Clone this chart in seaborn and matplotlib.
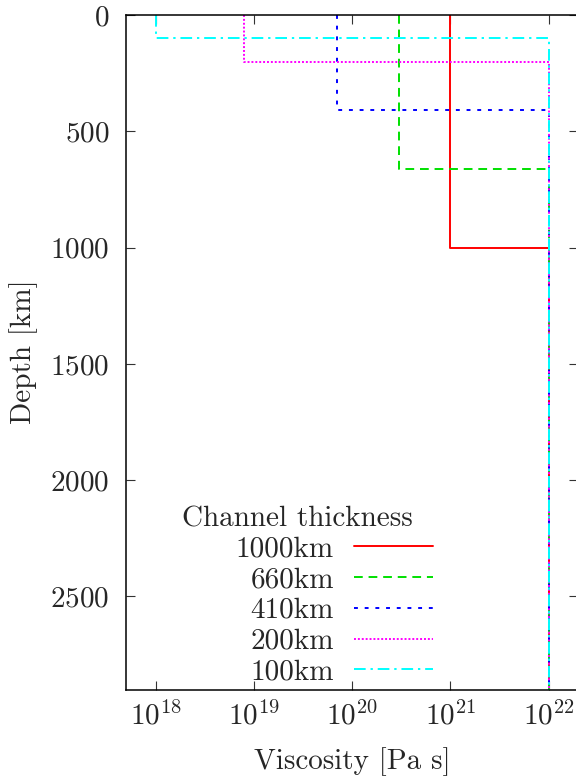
import matplotlib
matplotlib.use("Agg")
import matplotlib.pyplot as plt
import numpy as np
import pandas as pd
import seaborn as sns
from matplotlib.lines import Line2D
from matplotlib.ticker import NullLocator, FixedLocator

# Low-viscosity channel models: channel thickness and viscosity inside the channel
model_labels = ["1000km", "660km", "410km", "200km", "100km"]
channel_thickness_km = [1000, 660, 410, 200, 100]
channel_viscosity = [1e21, 3e20, 7e19, 8e18, 1e18]
mantle_viscosity = 1e22
cmb_depth_km = 2900

line_colors = ["#ff0000", "#00e000", "#0000ff", "#ff00ff", "#00ffff"]
line_dashes = ["", (4.5, 3), (2, 3.5), (1, 1), (6, 2.5, 1.2, 2.5)]

x_ticks = [1e18, 1e19, 1e20, 1e21, 1e22]
y_ticks = [0, 500, 1000, 1500, 2000, 2500]

# Step profiles: channel viscosity down to the channel base, mantle value below
rows = []
for lab, d, v in zip(model_labels, channel_thickness_km, channel_viscosity):
    for visc, depth in [(v, 0), (v, d), (mantle_viscosity, d), (mantle_viscosity, cmb_depth_km)]:
        rows.append({"model": lab, "viscosity": visc, "depth": depth})
df = pd.DataFrame(rows)

FS = 21

sns.set_style("ticks")
plt.rcParams.update({
    "font.family": "serif",
    "font.serif": ["cmr10", "DejaVu Serif"],
    "mathtext.fontset": "cm",
    "axes.formatter.use_mathtext": True,
    "axes.unicode_minus": False,
    "font.size": FS,
})

fig = plt.figure(figsize=(5.76, 7.78), dpi=100)
ax = fig.add_axes([126 / 576, 88.5 / 778, (578.3 - 126) / 576, (689.5 - 15) / 778])

sns.lineplot(
    data=df, x="viscosity", y="depth", hue="model", style="model",
    hue_order=model_labels, style_order=model_labels,
    palette=dict(zip(model_labels, line_colors)),
    dashes=dict(zip(model_labels, line_dashes)),
    sort=False, estimator=None, linewidth=1.4, ax=ax, legend=False,
)

ax.set_xscale("log")
ax.set_xlim(5e17, 2e22)
ax.set_ylim(cmb_depth_km, 0)
ax.xaxis.set_major_locator(FixedLocator(x_ticks))
ax.xaxis.set_minor_locator(NullLocator())
ax.set_yticks(y_ticks)

for side in ["left", "right", "top", "bottom"]:
    ax.spines[side].set_visible(True)
    ax.spines[side].set_linewidth(1.1)
    ax.spines[side].set_color("black")
ax.tick_params(which="both", direction="in", length=6.5, width=0.8, color="#333333",
               top=True, right=True, labelsize=FS)
ax.tick_params(axis="y", pad=12)
ax.tick_params(axis="x", pad=8)

ax.set_xlabel("Viscosity [Pa s]", fontsize=FS, labelpad=12)
ax.set_ylabel("Depth [km]", fontsize=FS, labelpad=9)

handles = []
for ln in ax.get_lines():
    h = Line2D([], [])
    h.update_from(ln)
    handles.append(h)
leg = ax.legend(
    handles, model_labels, markerfirst=False, frameon=False,
    loc="upper right", bbox_to_anchor=(433 / 576, 1 - 536 / 778),
    bbox_transform=fig.transFigure, borderpad=0, borderaxespad=0,
    handlelength=2.7, handletextpad=0.7, labelspacing=0.15, fontsize=FS,
)
fig.text(297 / 576, 1 - 519 / 778, "Channel thickness", ha="center", va="center", fontsize=FS)

fig.savefig("out.png", dpi=100)
